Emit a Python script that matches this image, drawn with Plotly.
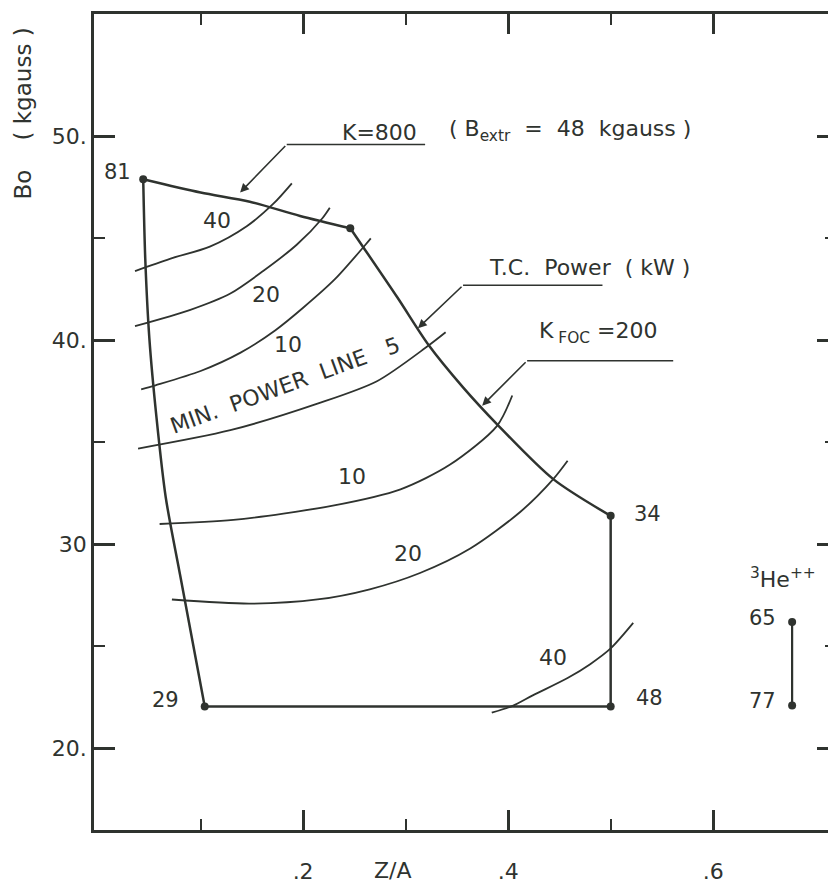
import plotly.graph_objects as go

FONT = "DejaVu Sans"
INK = "#2f332f"

# ---- operating window boundary (Z/A, B0 in kgauss) ----
corner_x = [0.044, 0.246, 0.500, 0.500, 0.104]
corner_y = [47.9, 45.5, 31.4, 22.05, 22.05]
corner_text = ["81", "", "34", "48", "29"]

left_x = [0.044, 0.046, 0.050, 0.057, 0.066, 0.080, 0.104]
left_y = [47.9, 44.0, 40.1, 36.2, 32.3, 28.5, 22.05]

k800_x = [0.044, 0.100, 0.148, 0.197, 0.246]
k800_y = [47.9, 47.25, 46.8, 46.1, 45.5]

tc_x = [0.246, 0.292, 0.322, 0.356, 0.389, 0.444, 0.500]
tc_y = [45.5, 42.1, 39.8, 37.7, 35.9, 33.2, 31.4]

# ---- T.C. power contours (kW) ----
p40a_x = [0.036, 0.070, 0.109, 0.145, 0.171, 0.189]
p40a_y = [43.4, 44.0, 44.6, 45.6, 46.7, 47.7]
p20a_x = [0.036, 0.090, 0.129, 0.161, 0.194, 0.219, 0.226]
p20a_y = [40.7, 41.5, 42.3, 43.4, 44.7, 46.0, 46.5]
p10a_x = [0.042, 0.056, 0.100, 0.139, 0.173, 0.200, 0.231, 0.261, 0.266]
p10a_y = [37.6, 37.8, 38.5, 39.4, 40.5, 41.6, 43.0, 44.7, 45.0]
p5_x = [0.039, 0.129, 0.214, 0.272, 0.321, 0.339]
p5_y = [34.7, 35.6, 36.9, 38.0, 39.7, 40.4]
p10b_x = [0.060, 0.132, 0.229, 0.295, 0.343, 0.389, 0.404]
p10b_y = [31.0, 31.2, 31.9, 32.7, 33.9, 35.8, 37.3]
p20b_x = [0.072, 0.148, 0.214, 0.265, 0.314, 0.363, 0.412, 0.444, 0.458]
p20b_y = [27.3, 27.1, 27.3, 27.8, 28.6, 29.8, 31.6, 33.2, 34.1]
p40b_x = [0.384, 0.405, 0.424, 0.458, 0.480, 0.500, 0.522]
p40b_y = [21.75, 22.1, 22.6, 23.45, 24.13, 24.9, 26.15]

contour_text = ["40", "20", "10", "10", "20", "40"]
contour_lx = [0.116, 0.164, 0.185, 0.248, 0.302, 0.444]
contour_ly = [45.9, 42.26, 39.78, 33.32, 29.57, 24.47]

# ---- 3He++ operating range ----
he_x = [0.677, 0.677]
he_y = [26.2, 22.1]
he_text = ["65", "77"]

# ---- leader lines: label end, knee, arrow tip ----
k800_lead_x = [0.319, 0.184, 0.1385]
k800_lead_y = [49.6, 49.6, 47.25]
tcp_lead_x = [0.492, 0.356, 0.312]
tcp_lead_y = [42.7, 42.7, 40.6]
kfoc_lead_x = [0.561, 0.4185, 0.3746]
kfoc_lead_y = [39.0, 39.0, 36.8]

x_ticks = [0.2, 0.4, 0.6]
x_ticktext = [".2", ".4", ".6"]
x_minor = [0.1, 0.3, 0.5]
y_ticks = [20, 30, 40, 50]
y_ticktext = ["20.", "30", "40.", "50."]
y_minor = [25, 35, 45]

fig = go.Figure()

def line(x, y, width, shape="spline"):
    fig.add_trace(go.Scatter(x=x, y=y, mode="lines", hoverinfo="skip",
                             line=dict(color=INK, width=width, shape=shape, smoothing=0.8)))

# boundary
line(left_x, left_y, 2.5)
line(k800_x, k800_y, 2.5)
line(tc_x, tc_y, 2.5)
line(corner_x[2:4], corner_y[2:4], 2.5, "linear")
line(corner_x[3:5], corner_y[3:5], 2.5, "linear")

# contours
for cx, cy in [(p40a_x, p40a_y), (p20a_x, p20a_y), (p10a_x, p10a_y), (p5_x, p5_y),
               (p10b_x, p10b_y), (p20b_x, p20b_y), (p40b_x, p40b_y)]:
    line(cx, cy, 1.8)

# corner dots
fig.add_trace(go.Scatter(x=corner_x, y=corner_y, mode="markers", hoverinfo="skip",
                         marker=dict(color=INK, size=8)))

# 3He++ segment
fig.add_trace(go.Scatter(x=he_x, y=he_y, mode="lines+markers", hoverinfo="skip",
                         line=dict(color=INK, width=2.2), marker=dict(color=INK, size=8)))

# leader lines with arrows
for lx, ly in [(k800_lead_x, k800_lead_y), (tcp_lead_x, tcp_lead_y), (kfoc_lead_x, kfoc_lead_y)]:
    line(lx[:2], ly[:2], 1.6, "linear")
    fig.add_annotation(x=lx[2], y=ly[2], ax=lx[1], ay=ly[1], axref="x", ayref="y",
                       xref="x", yref="y", text="", showarrow=True,
                       arrowhead=2, arrowsize=1.1, arrowwidth=1.6, arrowcolor=INK, standoff=0)

# right-hand tick marks
fig.add_trace(go.Scatter(x=[None], y=[None], yaxis="y2", hoverinfo="skip"))

def text(x, y, s, size=22, xanchor="center", angle=0, xref="x", yref="y"):
    fig.add_annotation(x=x, y=y, xref=xref, yref=yref, text=s, showarrow=False,
                       xanchor=xanchor, yanchor="middle", textangle=angle,
                       font=dict(family=FONT, size=size, color=INK))

# corner labels
text(0.0185, 48.24, corner_text[0], 21)
text(0.521, 31.47, corner_text[2], 21, "left")
text(0.523, 22.48, corner_text[3], 21, "left")
text(0.0654, 22.38, corner_text[4], 21)

for s, x, y in zip(contour_text, contour_lx, contour_ly):
    text(x, y, s, 22)

text(0.1824, 37.79, "MIN.  POWER  LINE   5", 22, angle=-20)

text(0.236, 50.2, "K=800", 22, "left")
text(0.3405, 50.28, "( B<sub>extr</sub>  =  48  kgauss )", 22, "left")
text(0.3795, 43.57, "T.C.  Power  ( kW )", 22, "left")
text(0.4283, 40.41, "K<sub> FOC</sub> =200", 22, "left")

text(0.668, 28.36, "<sup>3</sup>He<sup>++</sup>", 22)
text(0.6634, he_y[0] + 0.2, he_text[0], 21, "right")
text(0.6634, he_y[1] + 0.2, he_text[1], 21, "right")

# axis titles
text(0.2873, -0.05, "Z/A", 22, xref="x", yref="paper")
text(-0.0967, 0.878, "Bo    ( kgauss )", 23, angle=-90, xref="paper", yref="paper")

axis_common = dict(showgrid=False, zeroline=False, ticks="inside", tickcolor=INK,
                   tickwidth=2.5, tickfont=dict(family=FONT, size=22, color=INK))

fig.update_layout(
    width=828, height=884,
    margin=dict(l=94, r=0, t=14, b=47),
    paper_bgcolor="white", plot_bgcolor="white",
    showlegend=False,
    xaxis=dict(range=[-0.004, 0.712], showline=True, linecolor=INK, linewidth=2.5,
               mirror="ticks", ticklen=20, tickvals=x_ticks, ticktext=x_ticktext,
               ticklabelstandoff=20,
               minor=dict(tickvals=x_minor, ticks="inside", ticklen=11, tickwidth=2,
                          tickcolor=INK, showgrid=False),
               **axis_common),
    yaxis=dict(range=[16, 56], showline=True, linecolor=INK, linewidth=2.5,
               ticklen=21, tickvals=y_ticks, ticktext=y_ticktext, ticklabelstandoff=0,
               minor=dict(tickvals=y_minor, ticks="inside", ticklen=11, tickwidth=2,
                          tickcolor=INK, showgrid=False),
               **axis_common),
    yaxis2=dict(range=[16, 56], overlaying="y", side="right", showline=False,
                ticklen=11, tickvals=y_ticks, showticklabels=False,
                minor=dict(tickvals=y_minor, ticks="inside", ticklen=3, tickwidth=2,
                           tickcolor=INK, showgrid=False),
                **axis_common),
)

fig.write_html("out.html")
